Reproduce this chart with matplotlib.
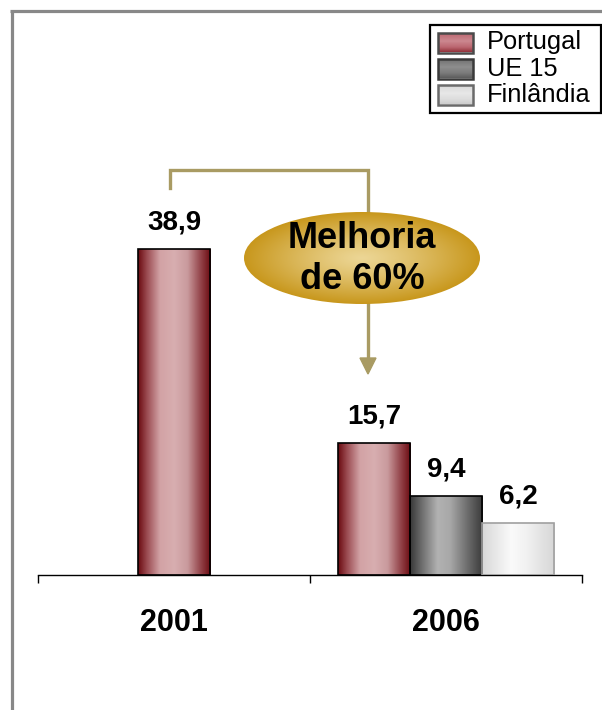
import numpy as np
import matplotlib
matplotlib.use("Agg")
import matplotlib.pyplot as plt
from matplotlib.colors import LinearSegmentedColormap, to_rgb
from matplotlib.patches import Rectangle, Ellipse, Polygon

plt.rcParams['font.family'] = ['Liberation Sans', 'DejaVu Sans']

# ---- data ----
years = ["2001", "2006"]
series = ["Portugal", "UE 15", "Finlândia"]
portugal = [38.9, 15.7]
ue15 = [None, 9.4]
finlandia = [None, 6.2]
callout_text = "Melhoria\nde 60%"

W, H = 602, 710
fig = plt.figure(figsize=(W / 100, H / 100), dpi=100)

def fx(px):
    return px / W

def fy(py):
    return 1 - py / H

# ---- colormaps (horizontal gradients for bars) ----
cmaps = {
    "Portugal": LinearSegmentedColormap.from_list("pt", [
        (0.0, "#6a0a10"), (0.12, "#9a4a50"), (0.3, "#d2a2a5"), (0.5, "#d8aeb0"),
        (0.68, "#c99a9d"), (0.86, "#94444a"), (1.0, "#6a0a10")]),
    "UE 15": LinearSegmentedColormap.from_list("ue", [
        (0.0, "#383838"), (0.15, "#6a6a6a"), (0.38, "#b2b2b2"), (0.55, "#a8a8a8"),
        (0.8, "#6a6a6a"), (1.0, "#3a3a3a")]),
    "Finlândia": LinearSegmentedColormap.from_list("fi", [
        (0.0, "#d8d8d8"), (0.4, "#fafafa"), (0.6, "#f2f2f2"), (1.0, "#d6d6d6")]),
}
# vertical gradients for legend keys
leg_cmaps = {
    "Portugal": LinearSegmentedColormap.from_list("lpt", [
        (0.0, "#b8606a"), (0.45, "#cc8890"), (0.75, "#bb6670"), (1.0, "#8e2e36")]),
    "UE 15": LinearSegmentedColormap.from_list("lue", [
        (0.0, "#6c6c6c"), (0.45, "#8e8e8e"), (0.75, "#7a7a7a"), (1.0, "#5a5a5a")]),
    "Finlândia": LinearSegmentedColormap.from_list("lfi", [
        (0.0, "#d4d4d4"), (0.45, "#e8e8e8"), (0.75, "#dddddd"), (1.0, "#cccccc")]),
}
leg_edges = {"Portugal": "#4a4a4a", "UE 15": "#3a3a3a", "Finlândia": "#6a6a6a"}
edgecols = {"Portugal": "#000000", "UE 15": "#000000", "Finlândia": "#a0a0a0"}
grad = np.linspace(0, 1, 256).reshape(1, -1)
vgrad = np.linspace(0, 1, 64).reshape(-1, 1)

# ---- main axes ----
px_per_unit = 8.38
ax = fig.add_axes([fx(38), fy(575), fx(582) - fx(38), (575 - 10) / H])
ymax = 565 / px_per_unit
ax.set_xlim(-0.5, 1.5)
ax.set_ylim(0, ymax)
ax.patch.set_alpha(0)
for s in ["top", "right", "left"]:
    ax.spines[s].set_visible(False)
ax.spines["bottom"].set_linewidth(1.0)
ax.set_yticks([])
ax.set_xticks([-0.5, 0.5, 1.5])
ax.set_xticklabels([])
ax.tick_params(axis="x", which="major", direction="out", length=6, width=1)
ax.set_xticks([0, 1], minor=True)
ax.set_xticklabels(years, minor=True, fontsize=22, fontweight="bold")
ax.tick_params(axis="x", which="minor", length=0, pad=24)

bw = 0.265
all_vals = {"Portugal": portugal, "UE 15": ue15, "Finlândia": finlandia}
for gi in range(len(years)):
    present = [s for s in series if all_vals[s][gi] is not None]
    n = len(present)
    for k, s in enumerate(present):
        v = all_vals[s][gi]
        xc = gi + (k - (n - 1) / 2) * bw
        bars = ax.bar(xc, v, width=bw, facecolor="none", edgecolor=edgecols[s],
                      linewidth=1.2, zorder=3)
        rect = bars[0]
        im = ax.imshow(grad, cmap=cmaps[s], aspect="auto",
                       extent=[xc - bw / 2, xc + bw / 2, 0, v], zorder=2)
        im.set_clip_path(rect)
        ax.annotate(f"{v:.1f}".replace(".", ","), (xc, v), xytext=(0, 14),
                    textcoords="offset points", ha="center", va="baseline",
                    fontsize=20, fontweight="bold")

ax.set_xlim(-0.5, 1.5)
ax.set_ylim(0, ymax)

# ---- overlay axes in pixel coordinates ----
ov = fig.add_axes([0, 0, 1, 1], zorder=5)
ov.set_xlim(0, W)
ov.set_ylim(H, 0)
ov.axis("off")
ov.patch.set_alpha(0)

# outer frame (left and top gray lines)
ov.plot([11.5, 11.5], [10.5, H], color="#888888", lw=2.3, solid_capstyle="butt")
ov.plot([10.3, W], [10.5, 10.5], color="#888888", lw=2.3, solid_capstyle="butt")

# connector
lc = "#a99b63"
ov.plot([170, 170, 368, 368], [188, 170, 170, 360], color=lc, lw=2.4,
        solid_joinstyle="miter", zorder=1)
ov.add_patch(Polygon([[360, 358], [376, 358], [368, 374]], closed=True,
                     facecolor=lc, edgecolor=lc, zorder=1))

# ellipse with radial gradient
cx, cy, ew, eh = 362, 258, 236, 92
xs = np.linspace(cx - ew / 2, cx + ew / 2, 300)
ys = np.linspace(cy - eh / 2, cy + eh / 2, 150)
XX, YY = np.meshgrid(xs, ys)
R = np.sqrt(((XX - cx) / (ew / 2)) ** 2 + ((YY - cy) / (eh / 2)) ** 2)
R = np.clip(R, 0, 1)
c0 = np.array(to_rgb("#ecd695"))
c1 = np.array(to_rgb("#c8971c"))
t = R[..., None] ** 1.2
img = c0 * (1 - t) + c1 * t
ell = Ellipse((cx, cy), ew, eh, facecolor="none", edgecolor="none", zorder=2)
ov.add_patch(ell)
eim = ov.imshow(img, extent=[cx - ew / 2, cx + ew / 2, cy + eh / 2, cy - eh / 2],
                aspect="auto", zorder=2)
eim.set_clip_path(ell)
ov.text(cx, cy + 1, callout_text, ha="center", va="center", fontsize=26,
        fontweight="bold", linespacing=1.25, zorder=3)

# legend
ov.add_patch(Rectangle((429.5, 24.5), 171.5, 88, facecolor="white",
                       edgecolor="black", lw=1.6, zorder=4))
for i, s in enumerate(series):
    y0 = 32 + i * 26
    r = Rectangle((437.5, y0 + 0.5), 35, 20, facecolor="none", edgecolor=leg_edges[s],
                  lw=1.8, zorder=6)
    ov.add_patch(r)
    lim = ov.imshow(vgrad, cmap=leg_cmaps[s], aspect="auto",
                    extent=[437, 473, y0 + 21, y0], zorder=5)
    lim.set_clip_path(r)
    ov.text(487, y0 + 10.5, s, ha="left", va="center", fontsize=18.3, zorder=6)

ov.set_xlim(0, W)
ov.set_ylim(H, 0)

fig.savefig("out.png", dpi=100)
